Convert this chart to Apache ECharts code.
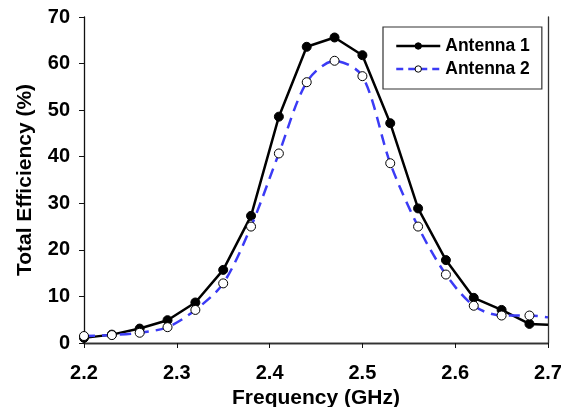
<!DOCTYPE html>
<html><head><meta charset="utf-8">
<script src="https://cdn.jsdelivr.net/npm/echarts@6/dist/echarts.min.js"></script>
<style>html,body{margin:0;padding:0;background:#fff}#c{width:570px;height:407px}</style>
</head><body><div id="c"></div>
<script>
const freq = [2.20,2.23,2.26,2.29,2.32,2.35,2.38,2.41,2.44,2.47,2.50,2.53,2.56,2.59,2.62,2.65,2.68,2.70];
const antenna1 = [1.1,1.8,3.1,4.9,8.7,15.7,27.3,48.6,63.6,65.6,61.8,47.2,28.9,17.8,9.7,7.1,4.1,3.9];
const antenna2 = [1.5,1.7,2.2,3.4,7.1,12.8,25.0,40.7,56.0,60.6,57.3,38.6,25.0,14.7,8.0,5.9,5.9,5.5];
const markerCount = 17; // last point (2.70) has no marker
const xTicks = [2.2,2.3,2.4,2.5,2.6,2.7];
const yTicks = [0,10,20,30,40,50,60,70];

const font = 'Liberation Sans, Arial, sans-serif';
const blue = '#3b3bf5';
function pts(vals){
  return freq.map((f,i)=>({value:[f,vals[i]], symbol: i<markerCount ? 'circle' : 'none'}));
}
const chart = echarts.init(document.getElementById('c'));
chart.setOption({
  animation:false,
  grid:{left:84,right:22,top:17,bottom:64,containLabel:false,outerBoundsMode:'none'},
  legend:{
    left:383, top:27, orient:'vertical', itemGap:5, itemWidth:44, itemHeight:8,
    padding:[10,12,11,12], borderColor:'#333', borderWidth:1.2,
    textStyle:{fontFamily:font,fontWeight:'bold',fontSize:17.5,color:'#000'},
    data:[
      {name:'Antenna 1', itemStyle:{color:'#000',borderColor:'#000',borderWidth:1}, lineStyle:{color:'#000',width:2.5}},
      {name:'Antenna 2', itemStyle:{color:'#fff',borderColor:'#000',borderWidth:1}, lineStyle:{color:blue,width:2.5,type:[7,5]}}
    ]
  },
  xAxis:[{
    type:'value', min:2.2, max:2.7, interval:0.1,
    name:'Frequency (GHz)', nameLocation:'middle', nameGap:45,
    nameTextStyle:{fontFamily:font,fontWeight:'bold',fontSize:21,color:'#000'},
    axisLine:{lineStyle:{color:'#111',width:1.3}},
    axisTick:{inside:false,length:5,lineStyle:{color:'#111'}},
    axisLabel:{fontFamily:font,fontWeight:'bold',fontSize:20,color:'#000',margin:20,
      formatter:v=>v.toFixed(1)},
    splitLine:{show:false}
  },{
    type:'value', position:'top', min:2.2, max:2.7,
    axisLine:{show:true,lineStyle:{color:'#333',width:1.3}},
    axisTick:{show:false}, axisLabel:{show:false}, splitLine:{show:false}
  }],
  yAxis:[{
    type:'value', min:0, max:70, interval:10,
    name:'Total Efficiency (%)', nameLocation:'middle', nameGap:48, nameRotate:90,
    nameTextStyle:{fontFamily:font,fontWeight:'bold',fontSize:21,color:'#000'},
    axisLine:{show:true,lineStyle:{color:'#111',width:1.3}},
    axisTick:{show:true,inside:false,length:5,lineStyle:{color:'#111'}},
    axisLabel:{fontFamily:font,fontWeight:'bold',fontSize:20,color:'#000',margin:14},
    splitLine:{show:false}
  },{
    type:'value', position:'right', min:0, max:70,
    axisLine:{show:true,lineStyle:{color:'#333',width:1.3}},
    axisTick:{show:false}, axisLabel:{show:false}, splitLine:{show:false}
  }],
  series:[{
    name:'Antenna 1', type:'line', data:pts(antenna1), symbol:'circle',
    symbolSize:9, showAllSymbol:true,
    lineStyle:{color:'#000',width:2.5},
    itemStyle:{color:'#000',borderColor:'#000',borderWidth:1},
    z:3
  },{
    name:'Antenna 2', type:'line', data:pts(antenna2), symbol:'circle',
    smooth:0.3, symbolSize:9, showAllSymbol:true,
    lineStyle:{color:blue,width:2.5,type:[11,7]},
    itemStyle:{color:'#fff',borderColor:'#000',borderWidth:1},
    z:4
  }]
});
</script></body></html>
